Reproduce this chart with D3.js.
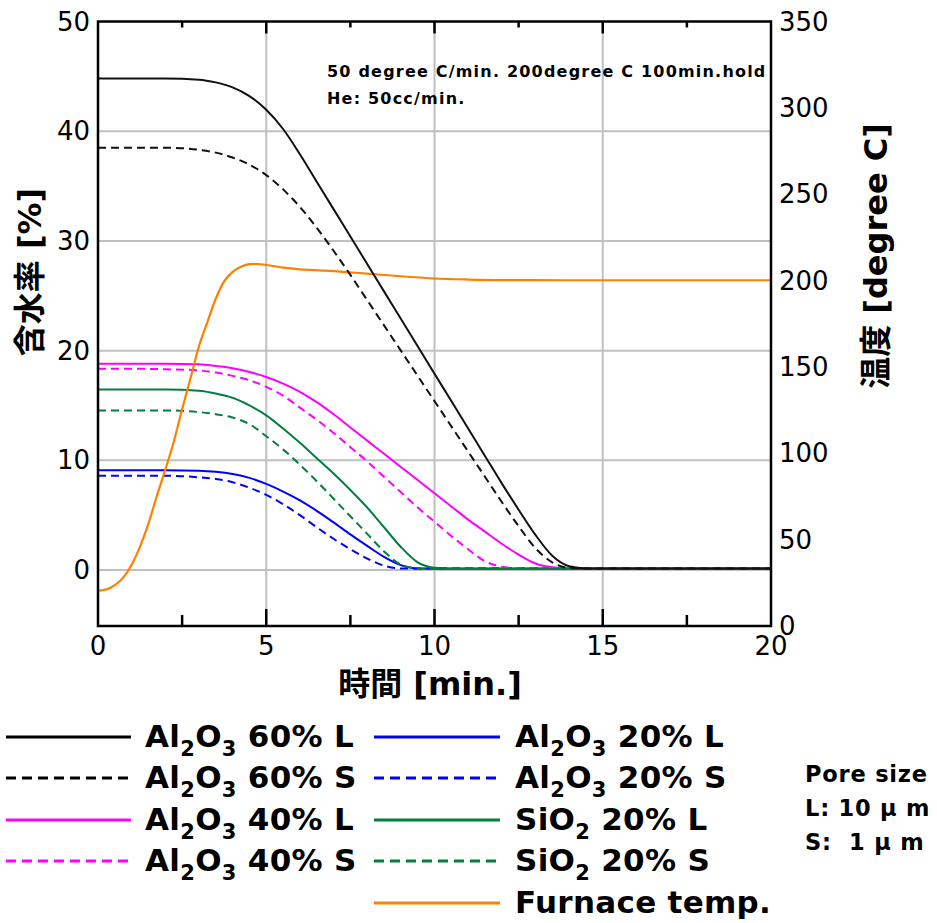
<!DOCTYPE html>
<html>
<head>
<meta charset="utf-8">
<script src="https://cdn.jsdelivr.net/npm/d3@7"></script>
<style>
body { margin: 0; background: #fff; }
text { font-family: "DejaVu Sans", "Noto Sans CJK JP", sans-serif; }
</style>
</head>
<body>
<svg id="chart" width="937" height="923"></svg>
<script>
// time [min]
var times = [0, 1, 2, 3, 3.5, 4, 4.5, 5, 5.5, 6, 6.5, 7, 7.5, 8, 8.5, 9, 9.5, 10, 10.5, 11, 11.5, 12, 12.5, 13, 13.5, 14, 14.5, 15, 20];

// water content [%]
var al60L = [44.8, 44.8, 44.8, 44.7, 44.45, 44.0, 43.2, 41.95, 40.2, 37.9, 35.4, 32.9, 30.4, 27.9, 25.4, 22.9, 20.4, 17.9, 15.4, 12.9, 10.4, 7.9, 5.5, 3.2, 1.3, 0.35, 0.15, 0.15, 0.15];
var al60S = [38.5, 38.5, 38.5, 38.3, 38.05, 37.6, 36.95, 36.0, 34.7, 33.1, 31.2, 29.1, 26.9, 24.6, 22.3, 20.0, 17.7, 15.4, 13.1, 10.8, 8.5, 6.2, 4.0, 2.0, 0.7, 0.2, 0.15, 0.15, 0.15];
var al40L = [18.8, 18.8, 18.8, 18.75, 18.6, 18.4, 18.05, 17.6, 17.0, 16.25, 15.3, 14.2, 13.0, 11.8, 10.6, 9.4, 8.2, 7.0, 5.8, 4.6, 3.5, 2.4, 1.4, 0.6, 0.25, 0.15, 0.15, 0.15, 0.15];
var al40S = [18.35, 18.35, 18.3, 18.2, 18.0, 17.7, 17.3, 16.7, 15.9, 14.8, 13.7, 12.5, 11.2, 9.9, 8.5, 7.1, 5.7, 4.4, 3.1, 1.9, 0.8, 0.3, 0.15, 0.15, 0.15, 0.15, 0.15, 0.15, 0.15];
var al20L = [9.1, 9.1, 9.1, 9.05, 8.95, 8.75, 8.4, 7.85, 7.15, 6.35, 5.4, 4.35, 3.25, 2.2, 1.2, 0.45, 0.15, 0.15, 0.15, 0.15, 0.15, 0.15, 0.15, 0.15, 0.15, 0.15, 0.15, 0.15, 0.15];
var al20S = [8.6, 8.6, 8.6, 8.45, 8.3, 8.0, 7.5, 6.85, 6.0, 5.0, 3.9, 2.85, 1.9, 1.05, 0.4, 0.15, 0.15, 0.15, 0.15, 0.15, 0.15, 0.15, 0.15, 0.15, 0.15, 0.15, 0.15, 0.15, 0.15];
var si20L = [16.45, 16.45, 16.45, 16.35, 16.1, 15.7, 15.0, 14.1, 12.9, 11.6, 10.2, 8.8, 7.3, 5.7, 3.9, 2.1, 0.7, 0.2, 0.1, 0.1, 0.1, 0.1, 0.1, 0.1, 0.1, 0.1, 0.1, 0.1, 0.1];
var si20S = [14.55, 14.55, 14.55, 14.4, 14.2, 13.9, 13.3, 12.2, 11.0, 9.6, 8.1, 6.5, 4.9, 3.3, 1.7, 0.5, 0.15, 0.1, 0.1, 0.1, 0.1, 0.1, 0.1, 0.1, 0.1, 0.1, 0.1, 0.1, 0.1];

// furnace temperature [degree C]
var tempTimes = [0, 0.25, 0.5, 0.75, 1, 1.25, 1.5, 1.75, 2, 2.25, 2.5, 2.75, 3, 3.25, 3.5, 3.75, 4, 4.25, 4.5, 4.75, 5, 5.5, 6, 7, 8, 9, 10, 11, 12, 14, 20];
var furnace = [20.4, 21.2, 23.7, 28, 35.5, 46, 59.4, 75.3, 90.5, 106.5, 125.5, 143.5, 162, 176, 189.5, 199.5, 205, 208, 209.5, 209.6, 209, 207.5, 206.5, 205.5, 204, 202.5, 201.2, 200.6, 200.3, 200.2, 200.2];

var seriesNames = ["Al2O3 60% L", "Al2O3 60% S", "Al2O3 40% L", "Al2O3 40% S", "Al2O3 20% L", "Al2O3 20% S", "SiO2 20% L", "SiO2 20% S", "Furnace temp."];
var xTicks = [0, 5, 10, 15, 20];
var leftTicks = [0, 10, 20, 30, 40, 50];
var rightTicks = [0, 50, 100, 150, 200, 250, 300, 350];
var noteLines = ["50 degree C/min. 200degree C 100min.hold", "He: 50cc/min."];
var poreLines = ["Pore size", "L: 10 \u03bc m", "S:  1 \u03bc m"];

var svg = d3.select('#chart');
var pLeft = 98, pRight = 771, pTop = 21.5, pBottom = 626;

var x = d3.scaleLinear().domain([0, 20]).range([pLeft, pRight]);
var yL = d3.scaleLinear().domain([-5.1, 50]).range([pBottom, pTop]);
var yR = d3.scaleLinear().domain([0, 350]).range([pBottom, pTop]);

svg.append('clipPath').attr('id', 'plotclip')
    .append('rect').attr('x', pLeft).attr('y', pTop).attr('width', pRight - pLeft).attr('height', pBottom - pTop);

// grid
var grid = svg.append('g').attr('stroke', '#c0c0c0').attr('stroke-width', 2);
grid.selectAll('line.h').data(leftTicks.slice(0, -1)).enter().append('line')
    .attr('x1', pLeft).attr('x2', pRight)
    .attr('y1', function(d) { return yL(d); }).attr('y2', function(d) { return yL(d); });
grid.selectAll('line.v').data([5, 10, 15]).enter().append('line')
    .attr('y1', pTop).attr('y2', pBottom)
    .attr('x1', function(d) { return x(d); }).attr('x2', function(d) { return x(d); });

// ticks on top and bottom, pointing inward
var tickG = svg.append('g').attr('stroke', '#000').attr('stroke-width', 2.5);
var minor = [2.5, 7.5, 12.5, 17.5];
var major = [5, 10, 15];
major.forEach(function(d) {
    tickG.append('line').attr('x1', x(d)).attr('x2', x(d)).attr('y1', pBottom).attr('y2', pBottom - 17);
    tickG.append('line').attr('x1', x(d)).attr('x2', x(d)).attr('y1', pTop).attr('y2', pTop + 12);
});
minor.forEach(function(d) {
    tickG.append('line').attr('x1', x(d)).attr('x2', x(d)).attr('y1', pBottom).attr('y2', pBottom - 11);
    tickG.append('line').attr('x1', x(d)).attr('x2', x(d)).attr('y1', pTop).attr('y2', pTop + 6);
});

// curves
var plot = svg.append('g').attr('clip-path', 'url(#plotclip)');
var lineL = d3.line()
    .x(function(d, i) { return x(times[i]); })
    .y(function(d) { return yL(d); })
    .curve(d3.curveMonotoneX);
var lineT = d3.line()
    .x(function(d, i) { return x(tempTimes[i]); })
    .y(function(d) { return yR(d); })
    .curve(d3.curveMonotoneX);

var curves = [
    { v: al20L, c: '#0000ff', dash: null },
    { v: al20S, c: '#0000ff', dash: '8,5' },
    { v: al40L, c: '#ff00ff', dash: null },
    { v: al40S, c: '#ff00ff', dash: '8,5' },
    { v: si20L, c: '#007f3f', dash: null },
    { v: si20S, c: '#007f3f', dash: '8,5' }
];
curves.forEach(function(s) {
    plot.append('path').attr('d', lineL(s.v)).attr('fill', 'none')
        .attr('stroke', s.c).attr('stroke-width', 2).attr('stroke-dasharray', s.dash);
});
plot.append('path').attr('d', lineT(furnace)).attr('fill', 'none')
    .attr('stroke', '#ff8000').attr('stroke-width', 2.2);
plot.append('path').attr('d', lineL(al60S)).attr('fill', 'none')
    .attr('stroke', '#111').attr('stroke-width', 2).attr('stroke-dasharray', '8,5');
plot.append('path').attr('d', lineL(al60L)).attr('fill', 'none')
    .attr('stroke', '#111').attr('stroke-width', 2);

// note
plot.selectAll('text.note').data(noteLines).enter().append('text')
    .attr('x', 327).attr('y', function(d, i) { return 77 + i * 27; })
    .attr('font-size', 16).attr('font-weight', 'bold').attr('letter-spacing', 1.2)
    .text(function(d) { return d; });

// frame
svg.append('rect').attr('x', pLeft).attr('y', pTop).attr('width', pRight - pLeft).attr('height', pBottom - pTop)
    .attr('fill', 'none').attr('stroke', '#000').attr('stroke-width', 2.5);

// tick labels
svg.selectAll('text.xl').data(xTicks).enter().append('text')
    .attr('x', function(d) { return x(d); }).attr('y', 655)
    .attr('text-anchor', 'middle').attr('font-size', 26).text(function(d) { return d; });
svg.selectAll('text.yl').data(leftTicks).enter().append('text')
    .attr('x', 90).attr('y', function(d) { return yL(d) + 9; })
    .attr('text-anchor', 'end').attr('font-size', 26).text(function(d) { return d; });
svg.selectAll('text.yr').data(rightTicks).enter().append('text')
    .attr('x', 779).attr('y', function(d) { return yR(d) + 9; })
    .attr('font-size', 26).text(function(d) { return d; });

// axis titles
svg.append('text').attr('x', 430).attr('y', 695).attr('text-anchor', 'middle')
    .attr('font-size', 32).attr('font-weight', 'bold').text('時間 [min.]');
svg.append('text').attr('transform', 'translate(41,272) rotate(-90)').attr('text-anchor', 'middle')
    .attr('font-size', 32).attr('font-weight', 'bold').text('含水率 [%]');
svg.append('text').attr('transform', 'translate(887,256) rotate(-90)').attr('text-anchor', 'middle')
    .attr('font-size', 32).attr('font-weight', 'bold').text('温度 [degree C]');

// legend
var legendColors = ['#000', '#000', '#ff00ff', '#ff00ff', '#0000ff', '#0000ff', '#007f3f', '#007f3f', '#ff8000'];
var legendDash = [null, '10,6', null, '10,6', null, '10,6', null, '10,6', null];
var rowY = [737, 778, 820, 861, 903];
var legendPos = [[0, 0], [0, 1], [0, 2], [0, 3], [1, 0], [1, 1], [1, 2], [1, 3], [1, 4]];
var colLine = [[6, 131], [374, 500]];
var colText = [145, 515];

seriesNames.forEach(function(name, i) {
    var col = legendPos[i][0], row = legendPos[i][1];
    var yy = rowY[row];
    svg.append('line').attr('x1', colLine[col][0]).attr('x2', colLine[col][1])
        .attr('y1', yy).attr('y2', yy).attr('stroke', legendColors[i]).attr('stroke-width', 3)
        .attr('stroke-dasharray', legendDash[i]);
    var t = svg.append('text').attr('x', colText[col]).attr('y', yy + 10)
        .attr('font-size', 31).attr('font-weight', 'bold').attr('letter-spacing', 0.3);
    // a digit right after a letter is a subscript
    var chars = name.split('');
    var buf = '', shifted = false;
    function flush(sub) {
        if (!buf) return;
        var ts = t.append('tspan').text(buf);
        if (sub) { ts.attr('font-size', 21).attr('dy', shifted ? 0 : 9); shifted = true; }
        else if (shifted) { ts.attr('dy', -9); shifted = false; }
        buf = '';
    }
    var curSub = false;
    chars.forEach(function(ch, k) {
        var isSub = /\d/.test(ch) && k > 0 && /[A-Za-z]/.test(chars[k - 1]);
        if (isSub !== curSub) { flush(curSub); curSub = isSub; }
        buf += ch;
    });
    flush(curSub);
});

svg.selectAll('text.pore').data(poreLines).enter().append('text')
    .attr('x', 805).attr('y', function(d, i) { return 782 + i * 34; })
    .attr('font-size', 22.5).attr('font-weight', 'bold').attr('letter-spacing', 0.8)
    .style('white-space', 'pre').text(function(d) { return d; });
</script>
</body>
</html>
